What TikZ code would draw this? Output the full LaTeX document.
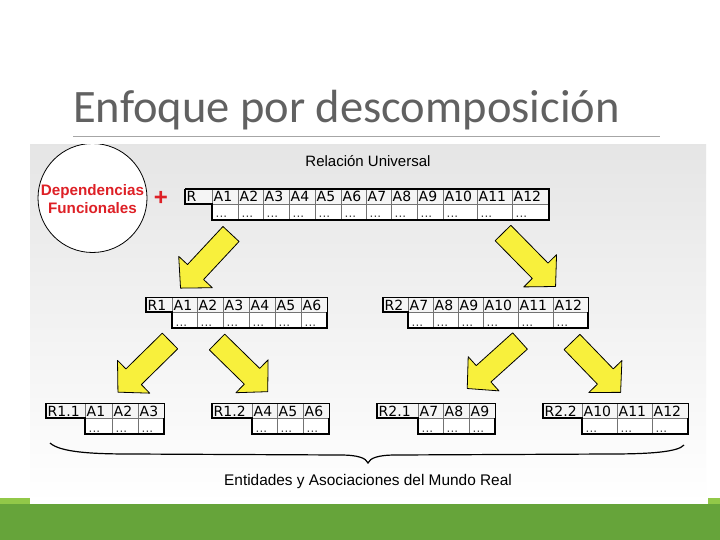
\documentclass[tikz,border=0pt]{standalone}
\usepackage{fontspec}
\newfontfamily\titlefont{Carlito}
\newfontfamily\arialfont{Liberation Sans}
\newfontfamily\cellfont{DejaVu Sans}
\definecolor{slidegreen}{RGB}{102,164,58}
\definecolor{lightgreen}{RGB}{146,200,72}
\definecolor{arrowyellow}{RGB}{248,240,60}
\definecolor{fdred}{RGB}{222,32,38}
\tikzset{
  cellhead/.style={anchor=base west, inner sep=0pt, font=\cellfont\fontsize{14}{16}\selectfont},
  celldots/.style={anchor=base west, inner sep=0pt, text=black!75, font=\cellfont\fontsize{12}{12}\selectfont},
  gridline/.style={black!55, line width=0.8pt},
  thinedge/.style={black, line width=1pt},
  tableedge/.style={black, line width=2.8pt, line join=miter},
  bigarrow/.style={fill=arrowyellow, draw=black, line width=0.8pt, line join=round},
  sanslabel/.style={inner sep=0pt, font=\arialfont\fontsize{15}{18}\selectfont}
}
% relation table: name, key label, key left, first column, right end, top, columns
\newcommand{\reltable}[7]{%
  \fill[black!4] (#3,#6) rectangle (#5,#6+15);
  \fill[white] (#4,#6+15) rectangle (#5,#6+31);
  \foreach \l/\r/\t in {#7} {
    \draw[gridline] (\l,#6) rectangle (\r,#6+31);
    \draw[gridline] (\l,#6+15) -- (\r,#6+15);
    \node[cellhead] (#1-\t) at (\l+1.5,#6+13) {\t};
    \node[celldots] (#1-\t-dots) at (\l+3.5,#6+29) {...};
  }
  \draw[thinedge] (#3,#6) -- (#5,#6) -- (#5,#6+15);
  \draw[tableedge] (#3,#6) -- (#3,#6+15) -- (#4,#6+15) -- (#4,#6+31) -- (#5,#6+31) -- (#5,#6+15);
  \node[cellhead] (#1-key) at (#3+1.5,#6+13) {#2};
}
% fat yellow arrow: tail, angle, length
\newcommand{\fatarrow}[3]{%
  \draw[bigarrow, shift={#1}, rotate=#2] (0,-11) -- (#3-22,-11) -- (#3-22,-23) -- (#3,0)
    -- (#3-22,23) -- (#3-22,11) -- (0,11) -- cycle;
}
\begin{document}
\begin{tikzpicture}[x=1pt,y=-1pt]
\useasboundingbox (0,0) rectangle (720,540);
\fill[white] (0,0) rectangle (720,540);

% Title
\node[anchor=base west, inner sep=0pt, text=black!62, font=\titlefont\fontsize{46.5}{46}\selectfont]
  (title) at (73,123) {Enfoque por descomposición};
\draw[black!35, line width=0.8pt] (73,136) -- (660,136);

% Picture background
\shade[top color=black!10, bottom color=white] (30,145) rectangle (706,503);

% Functional dependencies
\begin{scope}
\clip (30,145) rectangle (706,503);
\draw[fill=white, line width=0.8pt] (92.5,198) circle (54.5);
\end{scope}
\node[sanslabel, align=center, text=fdred, font=\arialfont\bfseries\fontsize{15.2}{18}\selectfont]
  (fd) at (92.5,199) {Dependencias\\Funcionales};
\node[inner sep=0pt, text=fdred, font=\arialfont\bfseries\fontsize{24}{24}\selectfont] (plus) at (161,198) {+};

% Universal relation
\node[sanslabel] (universal) at (368,161) {Relación Universal};
\reltable{ru}{R}{185}{212}{549}{189}{212/238/A1, 238/263/A2, 263/289/A3, 289/315/A4, 315/341/A5,
  341/366/A6, 366/391/A7, 391/417/A8, 417/443/A9, 443/477/A10, 477/512/A11, 512/549/A12}
\draw[tableedge] (185,189) -- (549,189) -- (549,204);

% First decomposition
\fatarrow{(231,234)}{-133}{74}
\fatarrow{(503,233)}{-45.5}{75}
\reltable{r1}{R1}{146}{172}{327}{297}{172/197/A1, 197/223/A2, 223/249/A3, 249/275/A4, 275/301/A5, 301/327/A6}
\reltable{r2}{R2}{383}{408}{588}{297}{408/433/A7, 433/458/A8, 458/483/A9, 483/518/A10, 518/553/A11, 553/588/A12}

% Second decomposition
\fatarrow{(170,341)}{-135.5}{73}
\fatarrow{(217,342)}{-44.4}{71}
\fatarrow{(520,341)}{-138}{71}
\fatarrow{(572,342)}{-46}{70}
\reltable{r11}{R1.1}{46}{85}{164}{403}{85/112/A1, 112/138/A2, 138/164/A3}
\reltable{r12}{R1.2}{212}{252}{329}{403}{252/277/A4, 277/303/A5, 303/329/A6}
\reltable{r21}{R2.1}{377}{418}{495}{403}{418/443/A7, 443/469/A8, 469/495/A9}
\reltable{r22}{R2.2}{543}{582}{688}{403}{582/617/A10, 617/652/A11, 652/688/A12}

% Brace
\draw[line width=1.2pt] (50,443) .. controls (60,452) and (90,454) .. (130,454) -- (340,455)
  .. controls (358,455) and (366,458) .. (368,463) .. controls (370,458) and (378,455) .. (396,455)
  -- (610,454) .. controls (650,454) and (678,452) .. (684,445);
\node[sanslabel, font=\arialfont\fontsize{15.4}{18}\selectfont] (mundo) at (368,482) {Entidades y Asociaciones del Mundo Real};

% Green footer
\fill[slidegreen] (0,504) rectangle (720,540);
\fill[lightgreen] (0,498) rectangle (30,504);
\fill[lightgreen] (708,498) rectangle (720,504);
\end{tikzpicture}
\end{document}
